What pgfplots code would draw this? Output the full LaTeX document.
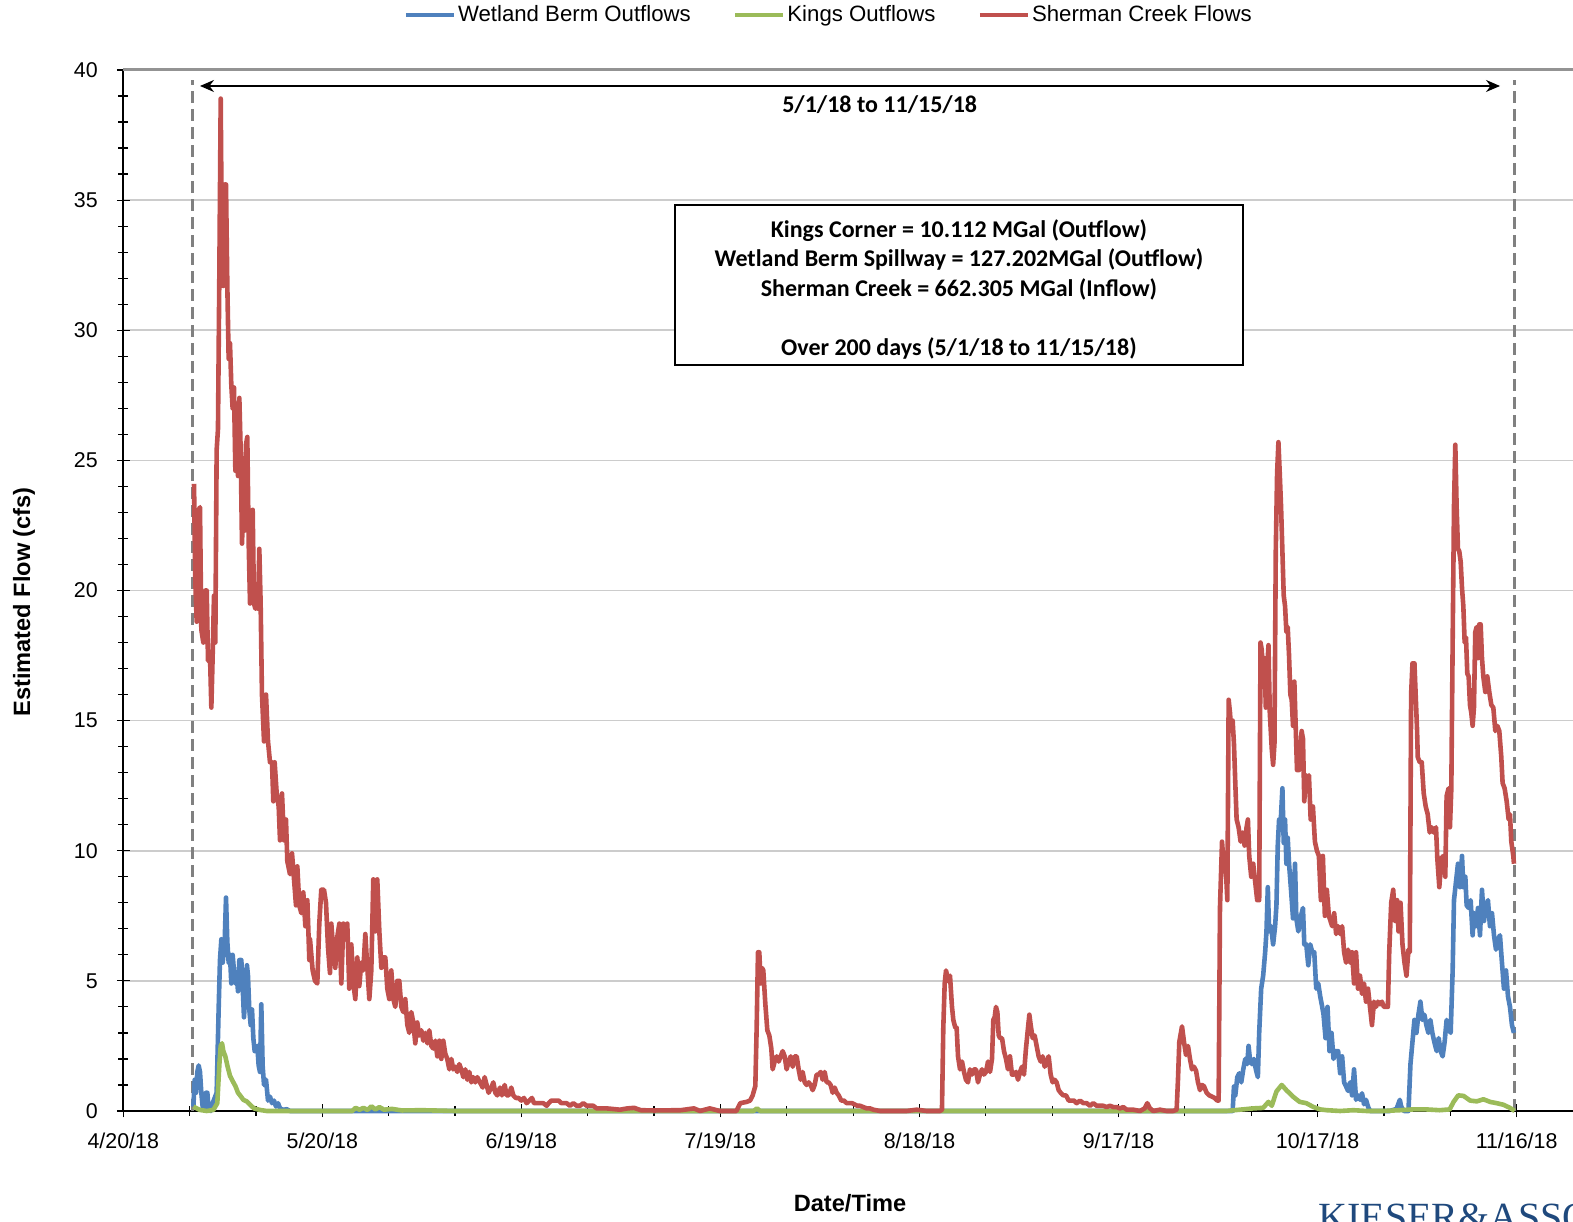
\documentclass[border=0pt]{standalone}
\usepackage{pgfplots}
\pgfplotsset{compat=1.18}
\usepackage{pgfplotstable}
\usetikzlibrary{arrows.meta}
\usepackage{fontspec}
\setmainfont{Liberation Sans}
\newfontfamily\calibri{Carlito}
\newfontfamily\logofont{Liberation Serif}

\definecolor{wbBlue}{RGB}{79,129,189}
\definecolor{kgGreen}{RGB}{155,187,89}
\definecolor{scRed}{RGB}{192,80,77}
\definecolor{guide}{RGB}{128,128,128}
\definecolor{logoBlue}{RGB}{31,73,125}

% x = days since 4/20/18, y = flow in cfs
\pgfplotstableread{
day cfs
10.56 0.17
10.76 1.2
10.96 0.7
11.16 1.5
11.36 1.75
11.56 1.5
11.76 0.7
11.96 0.17
12.16 0.04
12.46 0.7
12.67 0.7
12.87 0.04
13.17 0
13.47 0.3
13.77 0.5
14.07 0.7
14.37 3.9
14.57 5.8
14.78 6.6
14.98 5.7
15.28 6.5
15.48 8.2
15.68 6.5
15.88 5.7
16.08 6.0
16.28 4.9
16.48 6.0
16.68 5.4
16.89 4.9
17.09 5.2
17.29 4.6
17.49 5.8
17.79 5.8
17.99 4.8
18.19 3.6
18.39 4.5
18.64 5.6
18.79 5.2
18.99 3.9
19.20 3.3
19.40 3.9
19.60 2.8
19.80 2.3
20.00 2.3
20.20 2.5
20.40 1.75
20.60 1.5
20.80 4.1
21.00 1.75
21.21 1.0
21.51 1.2
21.81 0.4
22.11 0.55
22.41 0.3
22.71 0.4
23.02 0.17
23.32 0.3
23.62 0.1
24.12 0.04
24.62 0.07
25.12 0
167.2 0
167.4 0.94
167.6 0.6
167.9 1.3
168.2 1.45
168.5 1.1
168.8 1.6
169.1 2.0
169.4 1.8
169.6 2.5
169.8 2.0
170.1 1.8
170.4 2.0
170.7 1.6
171.0 1.3
171.2 3.0
171.5 4.7
171.8 5.2
172.1 6.1
172.3 6.9
172.5 8.6
172.7 6.9
173.0 7.1
173.3 6.4
173.6 7.1
173.8 7.9
174.0 10.2
174.2 11.2
174.4 10.9
174.7 12.4
174.9 10.3
175.1 11.2
175.3 9.5
175.5 10.5
175.7 9.5
176.0 8.5
176.3 7.4
176.6 9.5
176.8 7.4
177.1 6.9
177.4 7.4
177.8 7.8
178.0 6.4
178.3 6.4
178.6 5.6
178.9 6.4
179.2 6.1
179.5 6.1
179.8 4.7
180.1 4.9
180.4 4.4
180.7 4.0
180.9 3.7
181.2 2.8
181.5 4.0
181.8 2.3
182.1 3.0
182.4 2.0
182.7 2.3
183.1 2.3
183.4 1.45
183.7 2.1
184.0 1.1
184.3 0.94
184.6 0.77
184.9 1.1
185.2 0.6
185.5 1.6
185.8 0.43
186.1 0.6
186.4 0.43
186.7 0.68
187.0 0.26
187.3 0.43
187.6 0.17
187.9 0
190.9 0
191.9 0.08
192.4 0.43
192.6 0.17
193.0 0
193.7 0
194.0 1.8
194.3 2.65
194.6 3.5
194.9 3.0
195.2 3.7
195.5 4.2
195.8 3.5
196.1 3.7
196.4 3.3
196.7 3.0
197.0 3.5
197.3 3.0
197.6 2.65
197.95 2.3
198.25 2.8
198.55 2.3
198.85 2.1
199.15 2.65
199.45 3.5
199.75 3.2
200.06 3.0
200.36 5.4
200.56 8.1
200.86 8.8
201.16 9.5
201.47 8.6
201.77 9.8
201.97 8.6
202.27 9.0
202.47 7.9
202.77 7.8
203.07 8.1
203.37 6.75
203.57 7.6
203.87 7.1
204.18 7.8
204.48 6.75
204.78 8.5
205.08 7.3
205.38 7.9
205.68 8.1
205.98 7.1
206.29 7.6
206.59 6.75
206.89 6.2
207.19 6.6
207.49 6.75
207.79 5.7
208.09 4.7
208.40 5.4
208.70 4.4
209.00 4.0
209.30 3.3
209.60 3.0
}\wetlandtab

\pgfplotstableread{
day cfs
10.56 0.17
11.06 0.1
11.56 0.04
12.57 0
13.57 0.04
14.17 0.3
14.47 1.75
14.68 2.5
14.88 2.6
15.08 2.3
15.38 2.1
15.68 1.75
16.08 1.35
16.48 1.15
16.89 0.96
17.29 0.7
17.69 0.57
18.09 0.43
18.59 0.37
19.10 0.24
19.70 0.1
20.60 0.04
21.61 0
34.5 0
35.0 0.12
35.6 0.05
36.2 0.12
36.8 0.04
37.4 0.18
38.0 0.06
38.6 0.15
39.3 0.05
40.5 0.08
42.0 0.02
45.0 0.03
50.0 0
95.0 0
95.5 0.1
96.0 0
166.3 0
168.3 0.05
170.3 0.1
171.8 0.12
172.6 0.35
173.1 0.2
173.8 0.75
174.6 1.0
175.3 0.8
176.3 0.55
177.3 0.35
178.3 0.3
179.4 0.15
180.4 0.06
181.4 0.03
183.4 0
185.4 0.03
187.4 0
189.9 0
192.4 0.03
194.4 0.06
196.4 0.06
198.4 0.03
199.9 0.06
200.5 0.35
201.2 0.6
202.0 0.58
203.0 0.4
204.0 0.37
205.0 0.45
206.0 0.35
207.0 0.3
208.0 0.24
209.0 0.12
209.7 0
}\kingstab

\pgfplotstableread{
day cfs
10.66 24.1
10.86 20.3
11.06 18.8
11.36 23.1
11.56 23.2
11.76 18.5
12.06 18.0
12.36 20.0
12.57 20.0
12.77 17.3
13.07 17.5
13.27 15.5
13.47 17.5
13.67 19.8
13.87 18.0
14.07 25.4
14.27 26.2
14.47 32.0
14.68 38.9
14.88 32.5
15.08 31.7
15.28 35.6
15.48 35.6
15.68 31.7
15.88 28.9
16.08 29.5
16.28 27.9
16.48 27.0
16.68 27.8
16.89 24.6
17.09 26.4
17.29 24.4
17.49 27.4
17.69 25.4
17.89 21.8
18.09 23.4
18.29 22.3
18.49 25.6
18.69 25.9
18.90 21.8
19.10 19.5
19.30 20.3
19.50 23.1
19.70 19.5
19.90 19.3
20.10 19.8
20.30 19.3
20.50 21.6
20.70 19.5
20.90 16.0
21.21 14.2
21.51 16.0
21.81 14.2
22.11 13.4
22.41 13.4
22.61 11.9
22.81 13.4
23.12 12.2
23.42 11.7
23.62 10.4
23.92 12.2
24.22 10.4
24.52 11.2
24.72 9.6
25.12 9.1
25.43 9.9
25.73 8.9
26.03 7.9
26.23 9.4
26.53 7.9
26.83 7.6
27.13 8.4
27.44 7.1
27.74 8.1
28.04 5.8
28.14 6.6
28.54 5.4
28.89 5.0
29.24 4.9
29.54 7.2
29.84 8.5
30.25 8.5
30.55 8.0
30.85 6.3
31.15 5.3
31.35 7.2
31.65 6.2
31.95 5.5
32.26 6.7
32.56 7.2
32.86 4.9
33.16 7.2
33.46 6.6
33.76 7.2
34.06 4.7
34.37 6.4
34.67 4.9
34.97 4.3
35.27 5.9
35.57 4.8
35.87 5.7
36.17 5.4
36.48 6.8
36.78 5.5
37.08 4.3
37.38 5.4
37.68 8.9
37.98 6.9
38.28 8.9
38.59 6.9
38.89 5.5
39.19 5.9
39.49 5.9
39.79 4.7
40.09 4.3
40.39 5.4
40.70 4.3
41.00 4.0
41.30 5.0
41.60 5.0
41.90 4.0
42.20 3.8
42.50 4.3
42.81 3.3
43.11 3.0
43.41 3.8
43.71 3.4
44.01 2.6
44.31 3.4
44.61 2.9
44.92 3.1
45.22 2.7
45.52 3.0
45.82 2.6
46.12 3.1
46.42 2.5
46.72 2.4
47.03 2.7
47.33 2.1
47.63 2.7
47.93 2.0
48.23 2.7
48.53 2.2
48.83 2.0
49.14 1.6
49.44 2.0
49.74 1.6
50.04 1.7
50.34 1.5
50.64 1.8
50.94 1.6
51.25 1.3
51.55 1.6
51.85 1.2
52.15 1.5
52.45 1.1
52.75 1.3
53.05 1.1
53.36 1.3
53.76 1.1
54.16 0.9
54.46 1.3
54.76 1.0
55.06 0.7
55.47 0.9
55.77 1.1
56.07 0.7
56.37 0.6
56.77 0.9
57.07 0.6
57.48 1.0
57.78 0.6
58.08 0.6
58.48 0.9
58.78 0.6
59.18 0.5
59.59 0.5
59.99 0.4
60.39 0.5
60.79 0.3
61.19 0.4
61.60 0.5
61.90 0.3
62.30 0.3
62.80 0.3
63.30 0.3
63.81 0.2
64.11 0.3
64.51 0.4
64.91 0.4
65.31 0.4
65.62 0.4
66.02 0.3
66.42 0.3
66.82 0.3
67.32 0.2
67.83 0.3
68.33 0.2
68.83 0.2
69.33 0.3
69.84 0.2
70.34 0.2
70.84 0.2
71.34 0.1
71.84 0.1
72.85 0.1
74.86 0.05
76.00 0.1
77.00 0.12
78.00 0.03
80.00 0.02
84.00 0.03
86.00 0.1
86.92 0.0
88.40 0.1
89.90 0.0
92.40 0.0
93.00 0.3
93.96 0.35
94.46 0.4
94.86 0.6
95.26 0.96
95.46 3.2
95.66 6.1
95.86 6.1
96.06 4.9
96.26 5.5
96.46 5.4
96.77 4.1
97.07 3.1
97.37 2.9
97.67 2.4
97.87 1.6
98.17 1.9
98.48 2.1
98.78 1.9
99.08 2.1
99.38 2.3
99.68 2.1
99.98 1.6
100.28 1.9
100.59 2.1
100.89 1.7
101.19 2.1
101.49 2.1
101.79 1.6
102.09 1.2
102.39 1.5
102.70 1.1
103.00 1.0
103.30 1.1
103.60 1.0
103.90 0.8
104.20 1.0
104.50 1.4
104.80 1.4
105.11 1.5
105.41 1.2
105.71 1.5
106.01 1.1
106.31 1.1
106.61 1.0
106.92 0.7
107.22 0.9
107.52 0.7
107.82 0.6
108.22 0.4
108.62 0.4
109.03 0.3
109.43 0.3
109.83 0.3
110.23 0.25
110.63 0.2
111.04 0.2
111.54 0.15
112.04 0.1
112.54 0.1
113.04 0.05
114.05 0
116.06 0
118.07 0
119.58 0.05
121.08 0
123.09 0
123.39 0.05
123.59 3.2
123.80 4.9
124.00 5.4
124.30 5.0
124.60 5.2
124.90 4.0
125.10 3.5
125.40 3.2
125.60 3.2
125.81 2.1
126.11 1.6
126.41 1.9
126.71 1.5
127.01 1.2
127.31 1.1
127.61 1.6
127.92 1.4
128.22 1.6
128.52 1.6
128.82 1.1
129.12 1.4
129.42 1.6
129.72 1.4
130.03 1.5
130.33 1.9
130.63 1.5
130.93 2.0
131.13 3.5
131.33 3.6
131.53 4.0
131.74 3.8
131.94 2.9
132.14 2.8
132.44 2.8
132.74 2.3
133.04 2.0
133.34 1.6
133.64 2.1
133.94 1.4
134.25 1.4
134.55 1.5
134.85 1.2
135.15 1.5
135.45 1.7
135.75 1.4
136.05 2.4
136.36 3.2
136.56 3.7
136.76 3.3
137.06 2.8
137.36 2.9
137.66 2.5
137.96 2.1
138.26 1.9
138.56 2.1
138.87 1.7
139.17 1.9
139.47 2.1
139.77 1.4
140.07 1.1
140.37 1.2
140.67 1.1
140.98 0.8
141.28 0.7
141.68 0.6
142.08 0.6
142.49 0.4
142.89 0.4
143.29 0.4
143.69 0.3
144.19 0.4
144.70 0.3
145.20 0.3
145.70 0.2
146.20 0.3
146.71 0.2
147.21 0.2
147.71 0.2
148.21 0.15
148.71 0.2
149.22 0.15
149.72 0.15
150.22 0.1
150.72 0.15
151.23 0.05
152.23 0.05
153.23 0
153.94 0.1
154.34 0.3
154.74 0.1
155.24 0
156.25 0.05
157.25 0
158.25 0
158.76 0.05
158.96 1.2
159.16 2.65
159.57 3.25
159.87 2.65
160.17 2.15
160.47 2.5
160.77 2.0
161.07 1.6
161.37 1.7
161.68 1.55
161.98 1.1
162.28 0.8
162.58 1.0
162.88 0.95
163.28 0.7
163.69 0.6
164.09 0.55
164.49 0.5
164.89 0.4
165.09 0.4
165.29 7.8
165.6 10.35
165.9 9.3
166.2 9.15
166.4 8.1
166.6 15.8
166.8 15.3
167.0 14.6
167.2 15.0
167.4 14.1
167.6 12.6
167.8 11.2
168.1 10.9
168.4 10.35
168.7 10.7
169.0 10.2
169.3 10.9
169.5 11.2
169.7 9.8
170.0 9.0
170.3 9.5
170.6 8.8
170.9 8.1
171.2 8.1
171.4 18.0
171.6 17.7
171.8 16.3
172.0 17.4
172.2 15.5
172.4 17.0
172.6 17.9
172.8 15.3
173.1 13.9
173.3 13.3
173.5 14.1
173.7 21.5
173.9 24.5
174.1 25.7
174.3 24.5
174.5 23.2
174.7 21.5
174.9 19.8
175.1 19.4
175.3 18.4
175.5 18.6
175.7 17.5
175.9 16.0
176.1 15.8
176.3 14.8
176.5 16.5
176.7 14.8
176.9 13.1
177.2 13.1
177.6 14.6
177.8 14.3
178.0 11.9
178.2 12.9
178.4 12.6
178.7 12.9
178.96 11.2
179.3 11.7
179.6 10.35
179.9 10.0
180.2 9.8
180.5 8.1
180.8 9.8
181.1 7.5
181.4 8.5
181.7 7.5
182.2 7.1
182.5 7.6
182.8 6.8
183.1 7.1
183.4 6.8
183.7 7.1
184.0 6.1
184.3 5.7
184.6 6.2
184.9 5.7
185.2 6.1
185.5 4.9
185.8 6.1
186.1 4.7
186.4 5.2
186.7 4.5
187.0 4.9
187.3 4.2
187.6 4.7
187.9 4.0
188.2 3.3
188.5 4.2
188.8 4.0
189.1 4.2
189.4 4.1
189.7 4.2
190.0 4.0
190.3 4.0
190.6 4.0
190.8 6.1
191.1 8.0
191.4 8.5
191.7 7.3
192.0 8.1
192.2 6.9
192.5 8.0
192.8 6.4
193.1 5.7
193.4 5.2
193.7 6.2
193.9 6.1
194.1 16.0
194.3 17.2
194.6 17.2
195.0 14.6
195.1 13.6
195.4 13.4
195.7 13.4
196.0 12.2
196.3 11.7
196.6 11.4
196.9 10.7
197.2 10.9
197.5 10.7
197.85 10.9
198.05 9.7
198.35 8.6
198.65 9.7
198.95 9.8
199.25 9.0
199.45 12.1
199.75 12.4
199.95 10.9
200.16 12.4
200.36 18.0
200.56 23.2
200.76 25.6
200.96 23.2
201.16 21.6
201.36 21.5
201.57 21.1
201.77 20.1
201.97 19.4
202.17 18.0
202.37 18.2
202.57 16.8
202.77 16.7
202.97 15.6
203.17 15.3
203.37 14.8
203.57 15.5
203.77 18.4
203.98 18.6
204.18 17.4
204.38 18.7
204.58 18.7
204.78 17.4
204.98 16.7
205.28 16.1
205.58 16.7
205.88 16.1
206.19 15.6
206.49 15.5
206.79 14.6
207.09 14.8
207.39 14.6
207.69 13.6
207.89 12.6
208.19 12.4
208.50 11.9
208.80 11.2
209.00 11.4
209.20 10.35
209.50 9.8
209.60 9.5
}\shermantab

\begin{document}
\begin{tikzpicture}
\begin{axis}[
  name=ax,
  scale only axis,
  width=724.85pt, height=520.5pt,
  xmin=0, xmax=218.5, ymin=0, ymax=40,
  clip=false,
  axis x line*=bottom, axis y line*=left,
  axis line style={black, line width=0.9pt},
  xtick={0,30,...,210},
  xticklabels={4/20/18,5/20/18,6/19/18,7/19/18,8/18/18,9/17/18,10/17/18,11/16/18},
  minor xtick={10,20,40,50,70,80,100,110,130,140,160,170,190,200},
  ytick={0,5,...,40},
  minor y tick num=4,
  tick align=center,
  major tick length=6.5pt, minor tick length=5pt,
  tick style={black, line width=0.6pt},
  ymajorgrids, grid style={black!20, line width=0.8pt},
  ticklabel style={font=\fontsize{10.7}{12}\selectfont},
  /pgf/number format/assume math mode=true,
  yticklabel style={xshift=-6pt},
  xticklabel style={yshift=-4pt},
  legend columns=3,
  legend cell align=left,
  legend image code/.code={\draw[#1] (0pt,0pt) -- (24pt,0pt);},
  legend style={at={(0.4865,1)}, anchor=center, yshift=27.5pt,
    draw=none, fill=none, font=\fontsize{11.1}{13}\selectfont,
    nodes={inner sep=1pt},
    /tikz/every even column/.append style={column sep=20pt}},
]
% period boundaries
\draw[guide, line width=1.8pt, dash pattern=on 6pt off 3pt]
  (axis cs:10.45,0) -- (axis cs:10.45,39.6);
\draw[guide, line width=1.8pt, dash pattern=on 6pt off 3pt]
  (axis cs:209.7,0) -- (axis cs:209.7,39.6);

\addplot[wbBlue, line width=2.3pt, line join=round, mark=none] table[x=day, y=cfs] {\wetlandtab};
\addlegendentry{Wetland Berm Outflows}
\addplot[kgGreen, line width=2.3pt, line join=round, mark=none] table[x=day, y=cfs] {\kingstab};
\addlegendentry{Kings Outflows}
\addplot[scRed, line width=2.3pt, line join=round, mark=none] table[x=day, y=cfs] {\shermantab};
\addlegendentry{Sherman Creek Flows}

% top frame line
\draw[guide!85, line width=1.5pt] (rel axis cs:0,1) -- (rel axis cs:1,1);

% period arrow
\draw[black, line width=0.8pt, {Stealth[length=7pt,width=6pt]}-{Stealth[length=7pt,width=6pt]}]
  (axis cs:11.56,39.385) -- (axis cs:207.5,39.385);
\node[font={\calibri\bfseries\fontsize{12}{14}\selectfont}] at (axis cs:114.0,38.65) {5/1/18 to 11/15/18};

% volume summary box
\draw[black, line width=0.9pt, fill=white] (axis cs:83.15,28.66) rectangle (axis cs:168.76,34.81);
\node[align=center, font={\calibri\bfseries\fontsize{12}{14.75}\selectfont}] at (axis cs:125.95,31.58)
  {Kings Corner = 10.112 MGal (Outflow)\\
   Wetland Berm Spillway = 127.202MGal (Outflow)\\
   Sherman Creek = 662.305 MGal (Inflow)\\[14.75pt]
   Over 200 days (5/1/18 to 11/15/18)};
\end{axis}

\node[rotate=90, font={\bfseries\fontsize{11.8}{13}\selectfont}]
  at ([xshift=-49.65pt,yshift=254.5pt]ax.south west) {Estimated Flow (cfs)};
\node[font={\bfseries\fontsize{11.8}{13}\selectfont}]
  at ([xshift=363.35pt,yshift=-46pt]ax.south west) {Date/Time};
\node[anchor=north west, inner sep=0pt, text=logoBlue, font={\logofont\fontsize{20}{20}\selectfont}]
  at ([xshift=597.35pt,yshift=-46.5pt]ax.south west) {KIESER\&ASSOCIATES};

\pgfresetboundingbox
\path[use as bounding box] ([xshift=-61.65pt,yshift=-55.5pt]ax.south west) rectangle ([yshift=35pt]ax.north east);
\end{tikzpicture}
\end{document}
